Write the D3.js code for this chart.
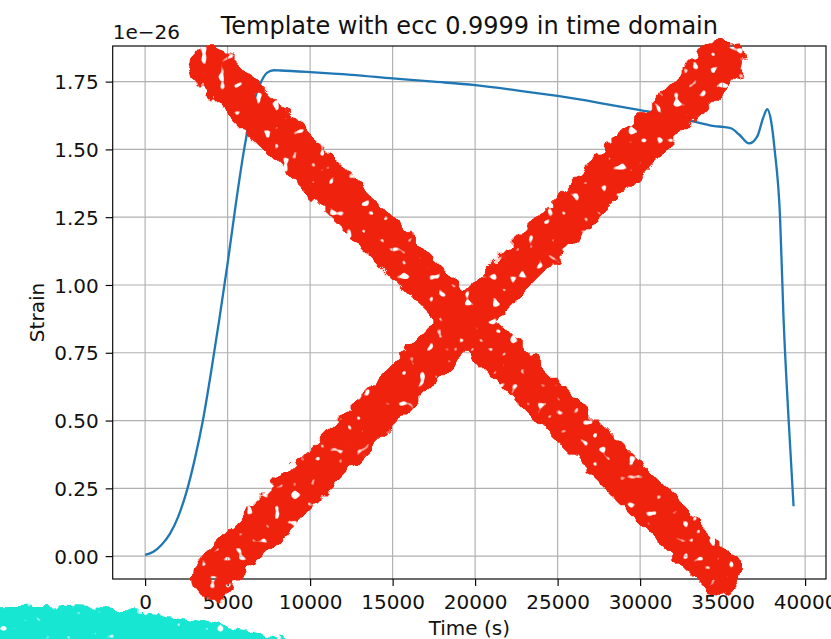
<!DOCTYPE html>
<html>
<head>
<meta charset="utf-8">
<script src="https://cdn.jsdelivr.net/npm/d3@7/dist/d3.min.js"></script>
<style>
  html, body { margin: 0; padding: 0; background: #fff; }
  svg { display: block; }
  text { font-family: "DejaVu Sans", sans-serif; fill: #111; }
</style>
</head>
<body>
<svg id="chart" width="831" height="639"></svg>
<script>
// Waveform template: time (s) and strain (units of 1e-26)
const timeSeconds = [
  0, 500, 1000, 1500, 2000, 2500, 3000, 3500, 4000, 4500, 5000, 5500, 6000,
  6500, 7000, 7400, 7800, 8200, 10000, 12500, 15000, 17500, 20000, 22500,
  25000, 27500, 30000, 32000, 33600, 34500, 35000, 35500, 36000, 36600,
  37100, 37450, 37700, 37950, 38150, 38480, 38690, 38990, 39300
];
const strainValues = [
  0.005, 0.016, 0.042, 0.082, 0.145, 0.235, 0.355, 0.50, 0.68, 0.875, 1.08,
  1.30, 1.50, 1.655, 1.745, 1.783, 1.792, 1.791, 1.785, 1.775, 1.762, 1.750,
  1.737, 1.718, 1.697, 1.672, 1.645, 1.622, 1.598, 1.586, 1.583, 1.578,
  1.555, 1.522, 1.548, 1.615, 1.648, 1.60, 1.50, 1.25, 0.88, 0.513, 0.184
];
const xTicks = [0, 5000, 10000, 15000, 20000, 25000, 30000, 35000, 40000];
const yTicks = [0.00, 0.25, 0.50, 0.75, 1.00, 1.25, 1.50, 1.75];

const titleText = "Template with ecc 0.9999 in time domain";
const xLabel = "Time (s)";
const yLabel = "Strain";
const offsetText = "1e\u221226";

const svg = d3.select("#chart");
const plot = { left: 112.7, right: 826, top: 46, bottom: 579 };

// Axis limits padded 5% beyond the data extent
const xExt = d3.extent(timeSeconds), yExt = d3.extent(strainValues);
const xPad = (xExt[1] - xExt[0]) * 0.05, yPad = (yExt[1] - yExt[0]) * 0.05;
const x = d3.scaleLinear().domain([xExt[0] - xPad, xExt[1] + xPad]).range([plot.left, plot.right]);
const y = d3.scaleLinear().domain([yExt[0] - yPad, yExt[1] + yPad]).range([plot.bottom, plot.top]);

const defs = svg.append("defs");
defs.append("clipPath").attr("id", "plotClip").append("rect")
  .attr("x", plot.left).attr("y", plot.top)
  .attr("width", plot.right - plot.left).attr("height", plot.bottom - plot.top);

// Grid
const grid = svg.append("g").attr("stroke", "#b0b0b0").attr("stroke-width", 1.15);
grid.selectAll("line.gx").data(xTicks).join("line")
  .attr("x1", d => x(d)).attr("x2", d => x(d))
  .attr("y1", plot.top).attr("y2", plot.bottom);
grid.selectAll("line.gy").data(yTicks).join("line")
  .attr("y1", d => y(d)).attr("y2", d => y(d))
  .attr("x1", plot.left).attr("x2", plot.right);

// Strain curve
const line = d3.line().x((d, i) => x(timeSeconds[i])).y(d => y(d)).curve(d3.curveMonotoneX);
svg.append("path").datum(strainValues)
  .attr("clip-path", "url(#plotClip)")
  .attr("d", line)
  .attr("fill", "none").attr("stroke", "#1f77b4").attr("stroke-width", 2.3)
  .attr("stroke-linejoin", "round").attr("stroke-linecap", "butt");

// Axes
const xAxis = d3.axisBottom(x).tickValues(xTicks).tickFormat(d3.format("d"))
  .tickSize(7).tickPadding(7);
const yAxis = d3.axisLeft(y).tickValues(yTicks).tickFormat(d3.format(".2f"))
  .tickSize(7).tickPadding(7);

const gx = svg.append("g").attr("transform", `translate(0,${plot.bottom})`).call(xAxis);
const gy = svg.append("g").attr("transform", `translate(${plot.left},0)`).call(yAxis);
[gx, gy].forEach(g => {
  g.select(".domain").remove();
  g.selectAll(".tick line").attr("stroke", "#000").attr("stroke-width", 1.15);
  g.selectAll(".tick text").attr("font-size", 20).attr("fill", "#111")
    .attr("font-family", "DejaVu Sans, sans-serif");
});
gx.selectAll(".tick text").attr("dy", null).attr("y", 30.3);
gy.selectAll(".tick text").attr("dy", "0.36em");

// Frame
svg.append("rect")
  .attr("x", plot.left).attr("y", plot.top)
  .attr("width", plot.right - plot.left).attr("height", plot.bottom - plot.top)
  .attr("fill", "none").attr("stroke", "#000").attr("stroke-width", 1.15);

// Labels
svg.append("text").attr("x", (plot.left + plot.right) / 2).attr("y", 34.3)
  .attr("text-anchor", "middle").attr("font-size", 24).text(titleText);
svg.append("text").attr("x", (plot.left + plot.right) / 2).attr("y", 635)
  .attr("text-anchor", "middle").attr("font-size", 20).text(xLabel);
svg.append("text")
  .attr("transform", `translate(44,${(plot.top + plot.bottom) / 2}) rotate(-90)`)
  .attr("text-anchor", "middle").attr("font-size", 20).text(yLabel);
svg.append("text").attr("x", plot.left).attr("y", 39.3)
  .attr("font-size", 20).text(offsetText);

// Hand-drawn marker strokes on top of the figure
function brushFilter(id, freq, disp, holeFreq, holeCut, seed) {
  const f = defs.append("filter").attr("id", id)
    .attr("x", "-15%").attr("y", "-15%").attr("width", "130%").attr("height", "130%");
  f.append("feTurbulence").attr("type", "fractalNoise").attr("baseFrequency", freq)
    .attr("numOctaves", 2).attr("seed", seed).attr("result", "noise");
  f.append("feDisplacementMap").attr("in", "SourceGraphic").attr("in2", "noise")
    .attr("scale", disp).attr("xChannelSelector", "R").attr("yChannelSelector", "G")
    .attr("result", "rough");
  f.append("feTurbulence").attr("type", "fractalNoise").attr("baseFrequency", holeFreq)
    .attr("numOctaves", 1).attr("seed", seed + 5).attr("result", "speck");
  f.append("feColorMatrix").attr("in", "speck").attr("type", "matrix")
    .attr("values", `0 0 0 0 0  0 0 0 0 0  0 0 0 0 0  0 0 0 16 ${-16 * holeCut}`)
    .attr("result", "holes");
  f.append("feComposite").attr("in", "rough").attr("in2", "holes").attr("operator", "out");
}
brushFilter("redBrush", 0.07, 16, 0.11, 0.66, 3);
brushFilter("cyanBrush", 0.08, 12, 0.12, 0.7, 11);

const marks = svg.append("g");
marks.append("path")
  .attr("d", "M212,68 L720,572")
  .attr("stroke", "#ee2410").attr("stroke-width", 44).attr("stroke-linecap", "round")
  .attr("fill", "none").attr("filter", "url(#redBrush)");
marks.append("path")
  .attr("d", "M212,578 L722,62")
  .attr("stroke", "#ee2410").attr("stroke-width", 44).attr("stroke-linecap", "round")
  .attr("fill", "none").attr("filter", "url(#redBrush)");
marks.append("path")
  .attr("d", "M-20,606 Q130,598 296,642 L296,672 L-20,672 Z")
  .attr("fill", "#18e6d2").attr("filter", "url(#cyanBrush)");
</script>
</body>
</html>
